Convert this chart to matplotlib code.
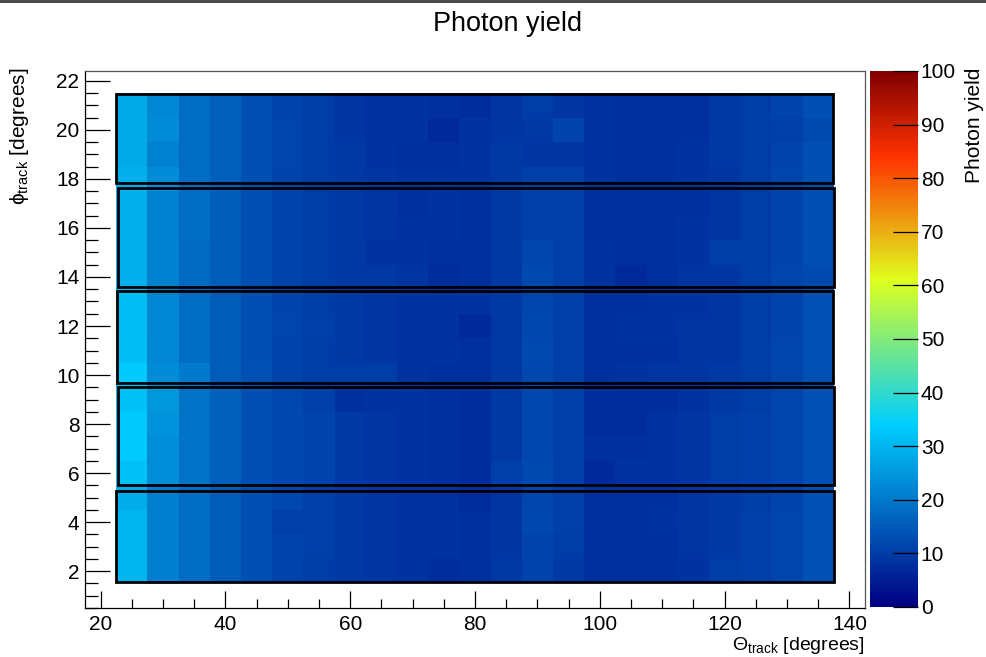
import numpy as np
import matplotlib
matplotlib.use("Agg")
import matplotlib.pyplot as plt
from matplotlib.colors import LinearSegmentedColormap
from matplotlib.patches import Rectangle
from matplotlib.ticker import MultipleLocator

plt.rcParams['font.family'] = ['Liberation Sans', 'DejaVu Sans']
plt.rcParams['mathtext.fontset'] = 'custom'
plt.rcParams['mathtext.rm'] = 'Liberation Sans'
plt.rcParams['mathtext.it'] = 'Liberation Sans:italic'
plt.rcParams['mathtext.sf'] = 'Liberation Sans'

# bin centres
theta_centers = [25, 30, 35, 40, 45, 50, 55, 60, 65, 70, 75, 80,
                 85, 90, 95, 100, 105, 110, 115, 120, 125, 130, 135]
phi_centers = list(range(2, 22))

# photon yield per (phi row, theta column); rows listed from phi = 2 up to phi = 21
yield_rows = [
    [30, 21, 18, 15, 13, 11, 10, 9.5, 9, 8.5, 7.5, 8, 9.5, 11, 9.5, 8, 8, 8, 8.5, 10, 10.5, 11.5, 13.5],      # 2
    [30, 21, 18, 15, 13, 11, 10.5, 9.5, 9, 8.5, 8.5, 8, 9, 11, 10, 8, 8, 8, 9, 9.5, 10.5, 11.5, 13.5],        # 3
    [30, 21, 18, 15, 13, 10.5, 10.5, 9.5, 9, 8.5, 8.5, 8, 9, 12, 10.5, 8, 8, 8.5, 9, 9.5, 10.5, 11.5, 13.5],  # 4
    [28.5, 21, 18, 15, 13, 12, 10.5, 9.5, 9, 8.5, 8.5, 7.5, 9, 11.5, 10.5, 8, 8, 8, 9, 9.5, 10, 11, 13.5],    # 5
    [32, 23.5, 19, 16, 13, 12, 11, 9.5, 9, 8.5, 8, 7.5, 10.5, 12.5, 10.5, 7, 8.5, 8.5, 9, 10, 10.5, 11.5, 13.5],  # 6
    [33, 23.5, 19, 16, 13, 12, 11, 9.5, 9, 8.5, 8, 7.5, 9.5, 12, 10.5, 8, 8, 8.5, 9, 10, 10.5, 11.5, 13.5],   # 7
    [33, 24, 19, 16, 13, 12, 11, 9.5, 9, 8.5, 8, 7.5, 9.5, 12, 10.5, 7.5, 7.5, 8.5, 9, 10, 10.5, 11.5, 13.5], # 8
    [32, 25, 19, 16, 13, 12, 10.5, 8, 8.5, 8.5, 8, 7.5, 9.5, 12, 10.5, 7.5, 7.5, 7.5, 8.5, 9.5, 10, 11.5, 13.5],  # 9
    [33, 23, 20, 15, 13.5, 11, 10, 10, 10, 8.5, 8, 8, 9.5, 12, 10.5, 8, 8.5, 9, 9, 9.5, 10, 11.5, 13.5],      # 10
    [31.5, 22, 18, 15, 13, 11, 10, 9.5, 9, 8.5, 8.5, 8, 9.5, 12.5, 10.5, 8, 8, 8, 9, 9, 10, 11.5, 13.5],      # 11
    [31, 22, 18, 15, 13, 11.5, 10.5, 9.5, 9, 8.5, 8.5, 7, 9.5, 12, 10.5, 8, 8.5, 8.5, 9, 9, 10, 11, 13.5],    # 12
    [31, 22, 18, 15, 13, 11, 10, 9.5, 9, 8.5, 8.5, 8.5, 9.5, 11.5, 10.5, 8, 8, 8.5, 8.5, 9, 10, 11, 13.5],    # 13
    [29, 21.5, 17.5, 15.5, 13, 11, 10, 9.5, 9.5, 9, 7.5, 8, 9.5, 12.5, 10.5, 8.5, 7, 8, 9, 9, 10, 11.5, 12.5],  # 14
    [29, 21.5, 17.5, 15.5, 13, 11, 10, 9.5, 8.5, 8.5, 8, 8, 9.5, 11.5, 10.5, 8.5, 8, 8, 8.5, 10, 10, 11, 13],  # 15
    [29, 21.5, 18, 15.5, 13, 11, 10, 9.5, 9, 8.5, 8.5, 8, 9.5, 10.5, 10.5, 8, 8, 8, 8.5, 9, 10, 11, 13],      # 16
    [29, 21.5, 18, 15.5, 13, 11, 10, 9.5, 9, 8, 8.5, 8, 9.5, 10.5, 10.5, 8, 8, 8, 8, 9, 10, 11, 13],         # 17
    [29, 23, 18, 16, 13, 11, 10, 9.5, 9, 8.5, 8.5, 8.5, 9.5, 10.5, 10.5, 8.5, 8, 8, 8.5, 8.8, 10, 11.5, 13],  # 18
    [28, 21.5, 18, 16, 13, 11.5, 10, 9.5, 8.5, 8, 8, 8.3, 9.5, 8.8, 8.8, 8.5, 8, 8, 8.5, 9.5, 10, 11, 13],   # 19
    [28, 23, 18, 16, 13, 11.5, 10, 9, 8.5, 8.5, 7, 8.3, 9, 9.5, 11, 8.5, 8, 8, 8, 9.5, 10, 10.5, 12.5],      # 20
    [28, 22, 18, 16, 13, 11, 10, 9, 8.5, 8.5, 8, 7.8, 9, 10, 9, 8.5, 8, 8, 8, 9.5, 10, 11, 13],              # 21
]

# detector module outlines drawn over the map
box_theta_lo = [22.5, 22.8, 22.7, 22.8, 22.5]
box_theta_hi = [137.5, 137.5, 137.3, 137.5, 137.3]
box_phi_lo = [1.54, 5.51, 9.66, 13.60, 17.82]
box_phi_hi = [5.28, 9.50, 13.43, 17.62, 21.45]

z_ticks = [0, 10, 20, 30, 40, 50, 60, 70, 80, 90, 100]

# five-stop rainbow palette
pal_stops = [0.00, 0.34, 0.61, 0.84, 1.00]
pal_red = [0.00, 0.00, 0.87, 1.00, 0.51]
pal_green = [0.00, 0.81, 1.00, 0.20, 0.00]
pal_blue = [0.51, 1.00, 0.12, 0.00, 0.00]
cmap = LinearSegmentedColormap.from_list(
    "rainbow5",
    [(s, (r, g, b)) for s, r, g, b in zip(pal_stops, pal_red, pal_green, pal_blue)],
    N=255)

W, H = 986, 657
fig = plt.figure(figsize=(W / 100, H / 100), dpi=100)
fig.patch.set_facecolor("white")

# dark strip along the top edge of the canvas
fig.add_artist(Rectangle((0, 1 - 3 / H), 1, 3 / H, transform=fig.transFigure,
                         facecolor="#4a4a4a", edgecolor="none"))

ax = fig.add_axes([85 / W, 1 - 608 / H, (865 - 85) / W, (608 - 71) / H])
cax = fig.add_axes([870 / W, 1 - 607 / H, (918 - 870) / W, (607 - 71) / H])

z = np.array(yield_rows)
tc = np.array(theta_centers, dtype=float)
pc = np.array(phi_centers, dtype=float)
dth = tc[1] - tc[0]
dph = pc[1] - pc[0]
t_edges = np.append(tc - dth / 2, tc[-1] + dth / 2)
p_edges = np.append(pc - dph / 2, pc[-1] + dph / 2)

mesh = ax.pcolormesh(t_edges, p_edges, z, cmap=cmap, vmin=0, vmax=100,
                     shading="flat", edgecolors="none", antialiased=False)

for x0, x1, y0, y1 in zip(box_theta_lo, box_theta_hi, box_phi_lo, box_phi_hi):
    ax.add_patch(Rectangle((x0, y0), x1 - x0, y1 - y0, fill=False,
                           edgecolor="black", linewidth=2.0, zorder=3))

ax.set_xlim(17.5, 142.5)
ax.set_ylim(0.5, 22.4)

for sp in ax.spines.values():
    sp.set_color("#555555")
    sp.set_linewidth(0.9)
ax.spines["left"].set_color("black")
ax.spines["bottom"].set_color("black")

ax.xaxis.set_major_locator(MultipleLocator(20))
ax.xaxis.set_minor_locator(MultipleLocator(5))
ax.yaxis.set_major_locator(MultipleLocator(2))
ax.yaxis.set_minor_locator(MultipleLocator(0.5))
ax.tick_params(axis="x", which="major", direction="in", length=12, width=0.9,
               labelsize=15, pad=5, top=False)
ax.tick_params(axis="x", which="minor", direction="in", length=6.5, width=0.9, top=False)
ax.tick_params(axis="y", which="major", direction="in", length=18, width=0.9,
               labelsize=15, pad=4, right=False)
ax.tick_params(axis="y", which="minor", direction="in", length=9, width=0.9, right=False)

cb = fig.colorbar(mesh, cax=cax, ticks=z_ticks)
cb.outline.set_visible(False)
cax.tick_params(axis="y", direction="in", length=18, width=0.9, labelsize=15,
                pad=2, right=True, left=False)
cax.yaxis.set_ticks_position("right")
cax.minorticks_off()

fig.text(508 / W, 1 - 24 / H, "Photon yield", ha="center", va="center", fontsize=19.5)
fig.text(975 / W, 1 - 68 / H, "Photon yield", rotation=90, ha="center", va="top",
         fontsize=15)
fig.text(865 / W, 1 - 646 / H, r"$\Theta_{\mathrm{track}}$ [degrees]", ha="right",
         va="center", fontsize=14)
fig.text(20 / W, 1 - 68 / H, r"ϕ$_{\mathrm{track}}$ [degrees]", rotation=90,
         ha="center", va="top", fontsize=15)

fig.savefig("out.png", dpi=100)
